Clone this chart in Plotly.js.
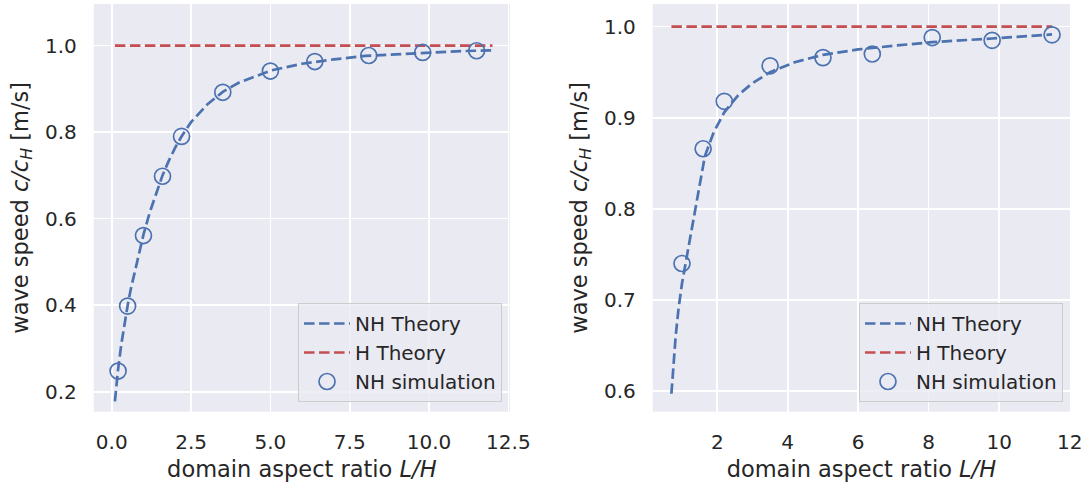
<!DOCTYPE html>
<html>
<head>
<meta charset="utf-8">
<script src="https://cdn.plot.ly/plotly-3.0.1.min.js"></script>
<style>
  html, body { margin: 0; padding: 0; background: #ffffff; }
  #chart { width: 1085px; height: 485px; }
</style>
</head>
<body>
<div id="chart"></div>
<script>
// Left panel: wave speed vs domain aspect ratio (first configuration)
const nhTheoryLeftX = [0.1, 0.15, 0.2, 0.3, 0.4, 0.5, 0.6, 0.8, 1.0, 1.2, 1.4, 1.6, 1.8, 2.0, 2.2, 2.5, 3.0, 3.5, 4.0, 5.0, 6.0, 7.0, 8.0, 9.0, 10.0, 11.0, 12.0];
const nhTheoryLeftY = [0.178, 0.219, 0.252, 0.309, 0.357, 0.399, 0.437, 0.504, 0.563, 0.615, 0.660, 0.700, 0.734, 0.764, 0.790, 0.823, 0.863, 0.893, 0.914, 0.942, 0.958, 0.968, 0.976, 0.980, 0.984, 0.987, 0.989];
const hTheoryLeftX = [0.1, 12.0];
const hTheoryLeftY = [1.0, 1.0];
const nhSimLeftX = [0.2, 0.5, 1.0, 1.6, 2.2, 3.5, 5.0, 6.4, 8.1, 9.8, 11.5];
const nhSimLeftY = [0.248, 0.398, 0.561, 0.698, 0.790, 0.892, 0.941, 0.963, 0.977, 0.984, 0.988];

// Right panel: wave speed vs domain aspect ratio (second configuration)
const nhTheoryRightX = [0.7, 0.75, 0.82, 0.9, 1.0, 1.12, 1.28, 1.45, 1.65, 1.9, 2.2, 2.6, 3.0, 3.5, 4.2, 5.0, 6.0, 7.0, 8.1, 9.8, 11.5];
const nhTheoryRightY = [0.597, 0.626, 0.660, 0.690, 0.718, 0.744, 0.778, 0.818, 0.858, 0.884, 0.906, 0.925, 0.938, 0.950, 0.961, 0.969, 0.975, 0.979, 0.983, 0.987, 0.9915];
const hTheoryRightX = [0.7, 11.5];
const hTheoryRightY = [1.0, 1.0];
const nhSimRightX = [1.0, 1.6, 2.2, 3.5, 5.0, 6.4, 8.1, 9.8, 11.5];
const nhSimRightY = [0.740, 0.866, 0.918, 0.957, 0.966, 0.970, 0.988, 0.985, 0.991];

const legendNames = ['NH Theory', 'H Theory', 'NH simulation'];

const BLUE = '#4C72B0';
const RED = '#C44E52';
const TEXT = '#262626';
const FONT = 'DejaVu Sans, sans-serif';
const DASH = '10.5px,4.5px';

function panelTraces(xa, ya, legendId, d) {
  return [
    {
      x: d.nhX, y: d.nhY, xaxis: xa, yaxis: ya, legend: legendId,
      name: legendNames[0], legendgroup: legendId + 'a',
      mode: 'lines', line: { color: BLUE, width: 2.7, dash: DASH },
      hoverinfo: 'skip'
    },
    {
      x: d.hX, y: d.hY, xaxis: xa, yaxis: ya, legend: legendId,
      name: legendNames[1], legendgroup: legendId + 'b',
      mode: 'lines', line: { color: RED, width: 2.7, dash: DASH },
      hoverinfo: 'skip'
    },
    {
      x: d.simX, y: d.simY, xaxis: xa, yaxis: ya, legend: legendId,
      name: legendNames[2], legendgroup: legendId + 'c',
      mode: 'markers',
      marker: { symbol: 'circle-open', size: 16, color: BLUE, line: { color: BLUE, width: 1.7 } },
      hoverinfo: 'skip'
    }
  ];
}

const data = [].concat(
  panelTraces('x', 'y', 'legend', {
    nhX: nhTheoryLeftX, nhY: nhTheoryLeftY,
    hX: hTheoryLeftX, hY: hTheoryLeftY,
    simX: nhSimLeftX, simY: nhSimLeftY
  }),
  panelTraces('x2', 'y2', 'legend2', {
    nhX: nhTheoryRightX, nhY: nhTheoryRightY,
    hX: hTheoryRightX, hY: hTheoryRightY,
    simX: nhSimRightX, simY: nhSimRightY
  })
);

const xTitle = 'domain aspect ratio <i>L/H</i>';
const yTitle = 'wave speed <i>c/c<sub>H</sub></i> [m/s]';

function axisBase() {
  return {
    showgrid: true, gridcolor: '#ffffff', gridwidth: 1.6,
    zeroline: false, showline: false, ticks: '',
    tickfont: { family: FONT, size: 20, color: TEXT },
    tickformat: '.1f',
    automargin: false
  };
}

const legendBase = {
  font: { family: FONT, size: 20, color: TEXT },
  bgcolor: 'rgba(234,234,242,0.8)',
  bordercolor: '#cccccc', borderwidth: 1,
  xanchor: 'right', yanchor: 'bottom',
  tracegroupgap: 0,
  itemwidth: 46
};

const layout = {
  width: 1085, height: 485,
  margin: { l: 0, r: 0, t: 0, b: 0 },
  paper_bgcolor: '#ffffff',
  plot_bgcolor: '#EAEAF2',
  font: { family: FONT, color: TEXT },
  showlegend: true,
  xaxis: Object.assign(axisBase(), {
    domain: [0.0864, 0.4700], range: [-0.567, 12.55],
    tick0: 0, dtick: 2.5, ticklabelstandoff: 16,
    title: { text: xTitle, font: { family: FONT, size: 22.5, color: TEXT }, standoff: 8 },
    anchor: 'y'
  }),
  yaxis: Object.assign(axisBase(), {
    domain: [0.1511, 0.9918], range: [0.154, 1.096],
    tick0: 0, dtick: 0.2, ticklabelstandoff: 16,
    title: { text: yTitle, font: { family: FONT, size: 22.5, color: TEXT }, standoff: 10 },
    anchor: 'x'
  }),
  xaxis2: Object.assign(axisBase(), {
    domain: [0.6016, 0.9862], range: [0.17, 12.01],
    tick0: 0, dtick: 2, tickformat: 'd', ticklabelstandoff: 16,
    title: { text: xTitle, font: { family: FONT, size: 22.5, color: TEXT }, standoff: 8 },
    anchor: 'y2'
  }),
  yaxis2: Object.assign(axisBase(), {
    domain: [0.1511, 0.9918], range: [0.5773, 1.0249],
    tick0: 0, dtick: 0.1, ticklabelstandoff: 16,
    title: { text: yTitle, font: { family: FONT, size: 22.5, color: TEXT }, standoff: 10 },
    anchor: 'x2'
  }),
  legend: Object.assign({}, legendBase, { x: 0.4627, y: 0.1711 }),
  legend2: Object.assign({}, legendBase, { x: 0.9797, y: 0.1711 })
};

Plotly.newPlot('chart', data, layout, { displayModeBar: false, staticPlot: true });
</script>
</body>
</html>
